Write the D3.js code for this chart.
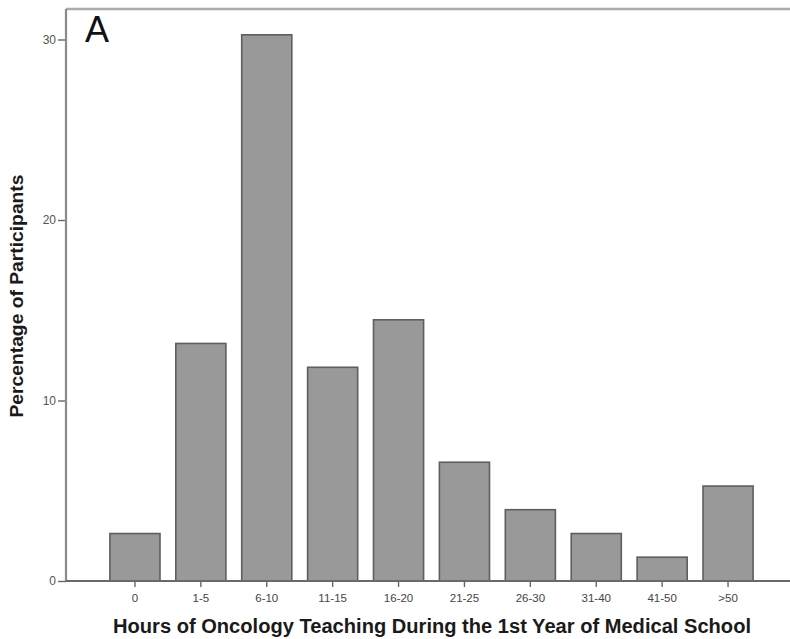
<!DOCTYPE html>
<html>
<head>
<meta charset="utf-8">
<script src="https://cdn.jsdelivr.net/npm/d3@7"></script>
<style>
  html, body { margin: 0; padding: 0; background: #fff; }
  svg { display: block; }
  text { font-family: "Liberation Sans", Arial, sans-serif; }
</style>
</head>
<body>
<svg id="chart" width="790" height="639"></svg>
<script>
const categories = ["0", "1-5", "6-10", "11-15", "16-20", "21-25", "26-30", "31-40", "41-50", ">50"];
const percentages = [2.63, 13.16, 30.26, 11.84, 14.47, 6.58, 3.95, 2.63, 1.32, 5.26];
const yTicks = [0, 10, 20, 30];
const xTitle = "Hours of Oncology Teaching During the 1st Year of Medical School";
const yTitle = "Percentage of Participants";
const panelLabel = "A";

const svg = d3.select("#chart");
const W = 790, H = 639;
const plot = { left: 66, top: 9, right: 800, bottom: 581 };

const x = d3.scaleBand()
  .domain(categories)
  .range([102, 761])
  .paddingInner(0.24)
  .paddingOuter(0.12);

const y = d3.scaleLinear()
  .domain([0, 30])
  .range([plot.bottom, plot.bottom - 541.5]);

// frame (top border)
svg.append("line")
  .attr("x1", plot.left).attr("x2", W)
  .attr("y1", plot.top).attr("y2", plot.top)
  .attr("stroke", "#aaaaaa").attr("stroke-width", 2.5);

// bars
svg.append("g").selectAll("rect")
  .data(percentages)
  .join("rect")
  .attr("x", (d, i) => x(categories[i]))
  .attr("width", x.bandwidth())
  .attr("y", d => y(d))
  .attr("height", d => y(0) - y(d))
  .attr("fill", "#999999")
  .attr("stroke", "#5e5e5e")
  .attr("stroke-width", 1.6);

// y axis
const yAxis = svg.append("g")
  .attr("transform", `translate(${plot.left},0)`)
  .call(d3.axisLeft(y).tickValues(yTicks).tickSize(8).tickPadding(2).tickFormat(d3.format("d")));
yAxis.select(".domain").remove();
yAxis.append("line")
  .attr("x1", 0).attr("x2", 0)
  .attr("y1", plot.top).attr("y2", plot.bottom)
  .attr("stroke", "#8a8a8a").attr("stroke-width", 2.2);
yAxis.selectAll(".tick line").attr("stroke", "#666").attr("stroke-width", 1.4);
yAxis.selectAll(".tick text")
  .attr("fill", "#555").attr("font-size", "12px");

// x axis
const xAxis = svg.append("g")
  .attr("transform", `translate(0,${plot.bottom})`)
  .call(d3.axisBottom(x).tickSize(6).tickPadding(7));
xAxis.select(".domain").remove();
xAxis.append("line")
  .attr("x1", plot.left).attr("x2", W)
  .attr("y1", 0).attr("y2", 0)
  .attr("stroke", "#6a6a6a").attr("stroke-width", 1.8);
xAxis.selectAll(".tick line").attr("stroke", "#666").attr("stroke-width", 1.4);
xAxis.selectAll(".tick text")
  .attr("fill", "#444").attr("font-size", "11.5px");

// titles
svg.append("text")
  .attr("x", 432).attr("y", 633)
  .attr("text-anchor", "middle")
  .attr("font-weight", "bold")
  .attr("font-size", "19.5px")
  .attr("fill", "#1a1a1a")
  .attr("textLength", 638)
  .attr("lengthAdjust", "spacingAndGlyphs")
  .text(xTitle);

svg.append("text")
  .attr("transform", "translate(23,296) rotate(-90)")
  .attr("text-anchor", "middle")
  .attr("font-weight", "bold")
  .attr("font-size", "18.5px")
  .attr("fill", "#1a1a1a")
  .attr("textLength", 243)
  .attr("lengthAdjust", "spacingAndGlyphs")
  .text(yTitle);

svg.append("text")
  .attr("x", 85).attr("y", 41.5)
  .attr("font-size", "36px")
  .attr("fill", "#111")
  .text(panelLabel);
</script>
</body>
</html>
